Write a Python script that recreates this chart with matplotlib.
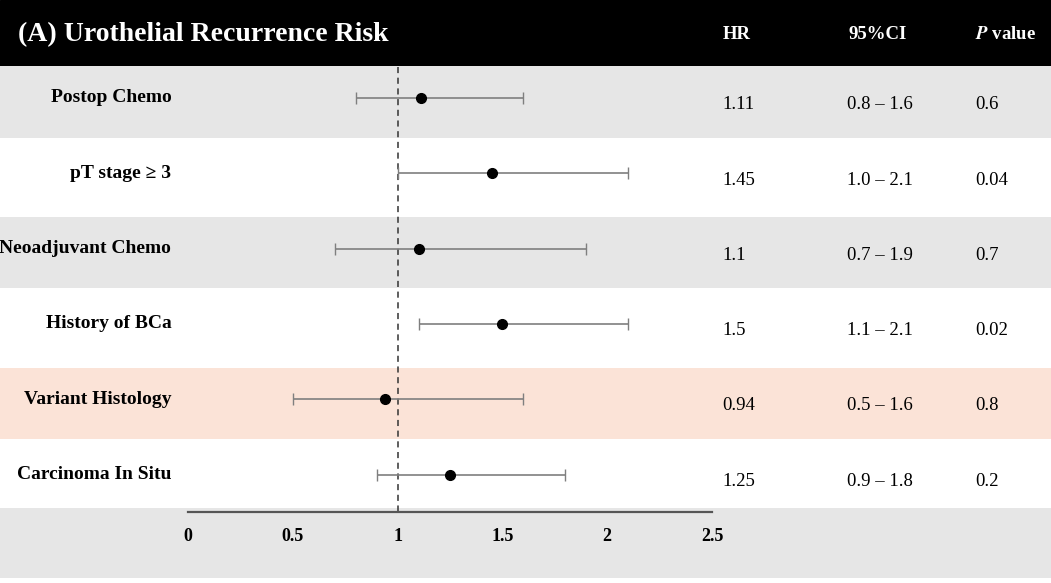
import numpy as np
import matplotlib
matplotlib.use("Agg")
import matplotlib.pyplot as plt

# data
labels = ["Postop Chemo", "pT stage \u2265 3", "Neoadjuvant Chemo",
          "History of BCa", "Variant Histology", "Carcinoma In Situ"]
hr = [1.11, 1.45, 1.1, 1.5, 0.94, 1.25]
ci_low = [0.8, 1.0, 0.7, 1.1, 0.5, 0.9]
ci_high = [1.6, 2.1, 1.9, 2.1, 1.6, 1.8]
hr_txt = ["1.11", "1.45", "1.1", "1.5", "0.94", "1.25"]
ci_txt = ["0.8 \u2013 1.6", "1.0 \u2013 2.1", "0.7 \u2013 1.9",
          "1.1 \u2013 2.1", "0.5 \u2013 1.6", "0.9 \u2013 1.8"]
p_txt = ["0.6", "0.04", "0.7", "0.02", "0.8", "0.2"]
row_colors = ["#e6e6e6", "white", "#e6e6e6", "white", "#fbe3d7", "white"]
xticks = [0, 0.5, 1, 1.5, 2, 2.5]
xtick_labels = ["0", "0.5", "1", "1.5", "2", "2.5"]

plt.rcParams['font.family'] = ['Liberation Serif', 'DejaVu Serif']
plt.rcParams['mathtext.fontset'] = 'stix'

fig = plt.figure(figsize=(10.51, 5.83), dpi=100)
ax = fig.add_axes([0, 0, 1, 1])
ax.set_xlim(-0.897, 4.117)
ax.set_ylim(6.44, -1.30)
ax.axis("off")

n = len(labels)
y = np.arange(n)

# background bands
ax.axhspan(-1.30, -0.41, color="black", zorder=0)
for i in range(n):
    ax.axhspan(i - 0.42, i + 0.53, color=row_colors[i], lw=0, zorder=0)
ax.axhspan(5.45, 6.37, color="#e6e6e6", lw=0, zorder=0)

# reference line and x axis
ax.plot([1, 1], [-0.41, 5.5], color="#333333", ls=(0, (4, 3)), lw=1.1, zorder=2)
ax.plot([0, 2.5], [5.5, 5.5], color="#555555", lw=1.6, zorder=2)
for t, tl in zip(xticks, xtick_labels):
    ax.text(t, 5.82, tl, ha="center", va="center", fontsize=13, fontweight="bold")

# estimates
err = [np.array(hr) - np.array(ci_low), np.array(ci_high) - np.array(hr)]
ax.errorbar(hr, y, xerr=err, fmt="none", ecolor="#7f7f7f", elinewidth=1.2,
            capsize=4, capthick=1.0, zorder=3)
ax.plot(hr, y, "o", color="black", ms=7, zorder=4)

# labels and table
for i in range(n):
    ax.text(-0.08, y[i], labels[i], ha="right", va="center", fontsize=14, fontweight="bold")
    ax.text(2.55, y[i] + 0.09, hr_txt[i], ha="left", va="center", fontsize=13.5)
    ax.text(3.3, y[i] + 0.09, ci_txt[i], ha="center", va="center", fontsize=13.5)
    ax.text(3.755, y[i] + 0.09, p_txt[i], ha="left", va="center", fontsize=13.5)

# header
ax.text(-0.81, -0.84, "(A) Urothelial Recurrence Risk", ha="left", va="center",
        fontsize=20, fontweight="bold", color="white")
ax.text(2.55, -0.84, "HR", ha="left", va="center", fontsize=13.5, fontweight="bold", color="white")
ax.text(3.29, -0.84, "95%CI", ha="center", va="center", fontsize=13.5, fontweight="bold", color="white")
ax.text(3.755, -0.84, "$\\bfit{P}$ value", ha="left", va="center", fontsize=13.5,
        fontweight="bold", color="white")

fig.savefig("out.png", dpi=100)
